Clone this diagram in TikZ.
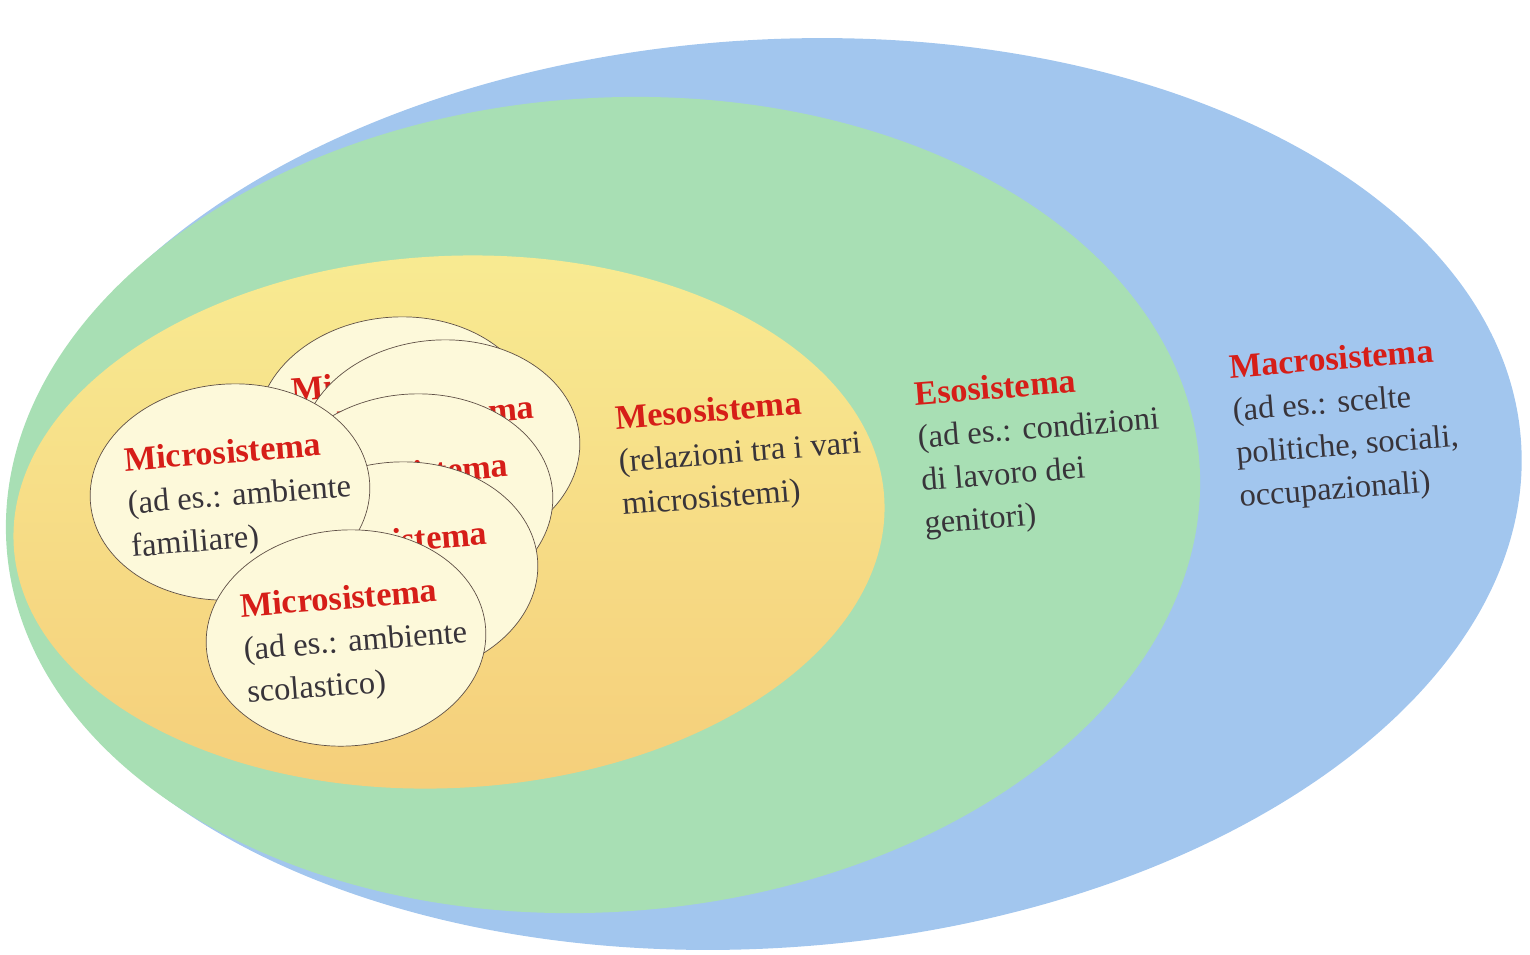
\documentclass[tikz,border=0pt]{standalone}
\usepackage{fontspec}
\setmainfont{Liberation Serif}
\usepackage{xcolor}
\usepackage{tikz}
\usetikzlibrary{positioning}
\usetikzlibrary{shapes.geometric}
\definecolor{macro}{RGB}{162,198,238}
\definecolor{eso}{RGB}{168,223,180}
\definecolor{mesotop}{RGB}{248,235,146}
\definecolor{mesobot}{RGB}{245,206,122}
\definecolor{crema}{RGB}{253,249,218}
\definecolor{bordo}{RGB}{95,80,70}
\definecolor{rosso}{RGB}{214,30,24}
\definecolor{testo}{RGB}{56,52,58}
\tikzstyle{sistema} = [ellipse, inner sep=0pt]
\tikzstyle{micro} = [ellipse, draw=bordo, thin, fill=crema, inner sep=0pt, minimum width=5.6cm, minimum height=4.32cm, rotate=4]
\tikzstyle{etichetta} = [align=left, inner sep=0pt, anchor=north west, rotate=4.5, text=testo, font=\fontsize{18.5pt}{24.5pt}\selectfont]
\newcommand{\titolo}[1]{{\fontsize{19.5pt}{24.5pt}\selectfont\bfseries\color{rosso}#1}}

\begin{document}
\begin{tikzpicture}[x=0.02cm,y=-0.02cm]
	\useasboundingbox (0,0) rectangle (1530,954);
	
	%Sistemi
	\node[sistema, fill=macro, minimum width=30.32cm, minimum height=18.16cm, rotate=4] (macro) at (765,494) {};
	\node[sistema, fill=eso, minimum width=23.92cm, minimum height=16.28cm, rotate=4] (eso) at (603,505) {};
	\node[sistema, top color=mesotop, bottom color=mesobot, minimum width=17.44cm, minimum height=10.64cm, rotate=3] (meso) at (449,522) {};
	
	%Microsistemi (dal fondo)
	\node[micro] (m1) at (397,425) {};
	\node[etichetta] (t1) at (290,377) {\titolo{Microsistema}};
	\node[micro] (m2) at (440,448) {};
	\node[etichetta] (t2) at (336,410) {\titolo{Microsistema}};
	\node[micro] (m3) at (413,502) {};
	\node[etichetta] (t3) at (310,468) {\titolo{Microsistema}};
	\node[micro] (m4) at (398,570) {};
	\node[etichetta] (t4) at (289,536) {\titolo{Microsistema}};
	\node[micro] (fam) at (230,492) {};
	\node[etichetta] (tfam) at (123,447) {\titolo{Microsistema}\\(ad es.: ambiente\\familiare)};
	\node[micro] (scol) at (346,638) {};
	\node[etichetta] (tscol) at (239,593) {\titolo{Microsistema}\\(ad es.: ambiente\\scolastico)};
	
	%Testi
	\node[etichetta] (tmeso) at (614,405) {\titolo{Mesosistema}\\(relazioni tra i vari\\microsistemi)};
	\node[etichetta] (teso) at (913,381) {\titolo{Esosistema}\\(ad es.: condizioni\\di lavoro dei\\genitori)};
	\node[etichetta] (tmacro) at (1228,354) {\titolo{Macrosistema}\\(ad es.: scelte\\politiche, sociali,\\occupazionali)};
	
\end{tikzpicture}
\end{document}
